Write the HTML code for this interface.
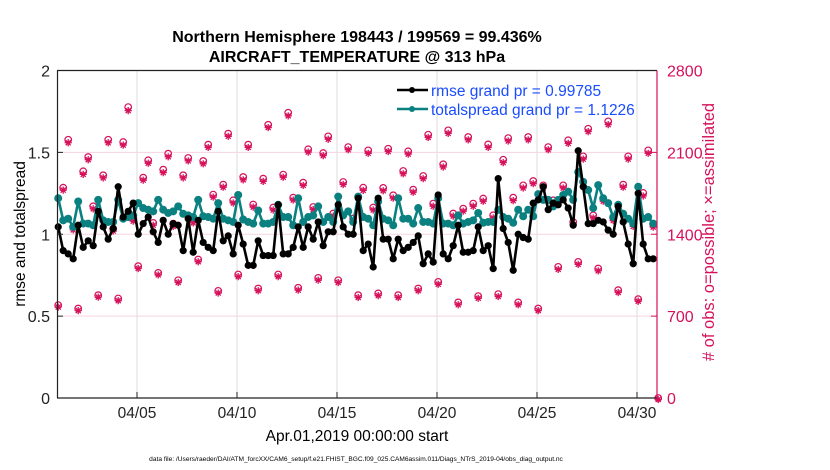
<!DOCTYPE html>
<html><head><meta charset="utf-8"><style>
body{margin:0;background:#fff;}
svg{display:block;font-family:"Liberation Sans",Arial,sans-serif;}
</style></head><body>
<svg id="chart" width="830" height="470" xmlns="http://www.w3.org/2000/svg">
<g id="grid"></g>
<g id="obs"></g>
<g id="series"></g>
<g id="axes"></g>
<text x="357" y="42" text-anchor="middle" font-size="16" font-weight="bold">Northern Hemisphere 198443 / 199569 = 99.436%</text>
<text x="357" y="62" text-anchor="middle" font-size="16" font-weight="bold">AIRCRAFT_TEMPERATURE @ 313 hPa</text>
<text transform="translate(25,234) rotate(-90)" text-anchor="middle" font-size="15.5">rmse and totalspread</text>
<text transform="translate(714,232) rotate(-90)" text-anchor="middle" font-size="16.5" fill="#d6105a"># of obs: o=possible; ×=assimilated</text>
<text x="357" y="441" text-anchor="middle" font-size="15.5">Apr.01,2019 00:00:00 start</text>
<text x="356" y="461" text-anchor="middle" font-size="6.6">data file: /Users/raeder/DAI/ATM_forcXX/CAM6_setup/f.e21.FHIST_BGC.f09_025.CAM6assim.011/Diags_NTrS_2019-04/obs_diag_output.nc</text>
<g>
<line x1="397" y1="90" x2="428" y2="90" stroke="#000" stroke-width="2.5"/>
<circle cx="412" cy="90" r="3" fill="#000"/>
<text x="431" y="96" font-size="15.5" fill="#1a4cff">rmse grand pr = 0.99785</text>
<line x1="397" y1="109" x2="428" y2="109" stroke="#0b8080" stroke-width="2.5"/>
<circle cx="412" cy="109" r="3" fill="#0b8080"/>
<text x="431" y="115" font-size="15.5" fill="#1a4cff">totalspread grand pr = 1.1226</text>
</g>
</svg>
<script>
const rmse=[1.045,0.90,0.88,0.85,1.055,0.92,0.96,0.93,1.14,1.045,0.97,1.035,1.29,1.105,1.14,1.19,1.00,1.065,1.105,1.015,0.95,1.085,1.00,1.065,1.055,0.90,1.095,0.89,1.085,0.95,0.92,0.90,1.14,0.96,0.99,0.88,1.055,0.94,0.81,0.81,0.96,0.87,
0.87,0.87,1.18,0.88,0.88,0.92,1.045,0.92,1.045,0.97,1.075,0.93,1.015,1.015,1.18,1.045,1.00,1.00,1.22,0.90,0.94,0.80,1.22,0.97,0.97,0.85,0.97,0.90,0.92,0.95,0.99,0.82,0.88,0.83,1.24,0.88,0.85,0.93,1.055,0.89,
0.89,0.90,1.045,0.90,0.93,0.79,1.34,1.035,0.95,0.78,1.00,0.98,0.97,1.19,1.21,1.29,1.15,1.19,1.18,1.21,1.16,1.055,1.51,1.29,1.065,1.065,1.085,1.075,1.025,1.00,1.17,1.075,0.94,0.82,1.25,0.94,0.85,0.85];
const spread=[1.22,1.085,1.095,1.045,1.20,1.065,1.065,1.055,1.21,1.085,1.075,1.075,1.21,1.095,1.105,1.115,1.19,1.16,1.15,1.14,1.21,1.15,1.13,1.14,1.17,1.125,1.115,1.105,1.21,1.11,1.105,1.095,1.19,1.095,1.085,1.075,1.24,1.09,1.075,1.065,1.145,1.065,
1.065,1.075,1.18,1.105,1.105,1.055,1.22,1.075,1.105,1.115,1.17,1.075,1.105,1.075,1.23,1.115,1.14,1.075,1.23,1.105,1.095,1.055,1.20,1.095,1.085,1.055,1.22,1.095,1.095,1.065,1.16,1.075,1.075,1.065,1.22,1.065,1.065,1.055,1.115,1.065,
1.075,1.085,1.13,1.07,1.075,1.075,1.15,1.105,1.095,1.07,1.15,1.11,1.15,1.11,1.245,1.21,1.21,1.17,1.21,1.24,1.26,1.21,1.38,1.32,1.27,1.16,1.30,1.22,1.19,1.105,1.18,1.125,1.095,1.065,1.29,1.095,1.105,1.065];
const nposs=[794,1798,2208,1463,765,1938,2060,1639,879,1904,2208,1448,851,2188,2487,1534,1127,1884,2032,1497,1070,1952,2089,1491,1007,1904,2052,1520,1184,2026,2166,1739,916,1824,2260,1690,1056,1889,2166,1654,936,1875,
2336,1628,1056,1910,2439,1713,942,1841,2126,1633,1027,2094,2237,1577,1007,1847,2145,1534,879,1798,2117,1628,894,1796,2131,1733,879,1941,2109,1781,936,1898,2251,1662,993,1998,2288,1577,817,1619,
2231,1662,871,1705,2168,1562,888,2037,2222,1713,817,1818,2231,1855,765,1818,2145,1690,1121,1818,2203,1505,1164,2066,2302,1562,1107,1705,2365,1540,922,1824,2066,1491,845,1753,2117,1483,0];
const nused=[790,1790,2195,1450,760,1925,2050,1630,875,1895,2195,1440,845,2175,2470,1525,1120,1875,2020,1490,1065,1940,2075,1480,1000,1895,2040,1510,1178,2015,2155,1730,910,1815,2250,1680,1050,1878,2155,1645,930,1865,
2325,1620,1050,1900,2425,1705,935,1830,2115,1625,1020,2085,2225,1568,1000,1838,2135,1525,872,1788,2105,1620,888,1785,2120,1722,872,1930,2098,1772,930,1888,2240,1652,985,1988,2275,1568,810,1610,
2220,1652,865,1695,2155,1552,880,2025,2210,1700,810,1808,2220,1845,760,1808,2135,1680,1112,1808,2190,1495,1155,2055,2290,1552,1100,1695,2350,1530,915,1815,2055,1480,840,1740,2105,1474,0];
const yTicks=[0,0.5,1,1.5,2];
const rTicks=[0,700,1400,2100,2800];
const xTickDays=[4,9,14,19,24,29];
const xTickLabels=["04/05","04/10","04/15","04/20","04/25","04/30"];

const NS="http://www.w3.org/2000/svg";
const L=57,R=657,T=70.5,B=398;
const X=d=>L+20*d;
const Y=v=>B-(v/2)*(B-T);
const YR=v=>B-(v/2800)*(B-T);
const tOf=i=>0.06+0.25*i;
function mk(tag,attrs,parent){const e=document.createElementNS(NS,tag);for(const k in attrs)e.setAttribute(k,attrs[k]);parent.appendChild(e);return e;}
const grid=document.getElementById('grid'),axes=document.getElementById('axes'),obs=document.getElementById('obs'),ser=document.getElementById('series');

xTickDays.forEach((d,i)=>{
  const g=mk('line',{x1:X(d),x2:X(d),y1:T,y2:B,stroke:'#dcdcdc','stroke-width':1},grid);
  
  
  const tk=mk('line',{x1:X(d),x2:X(d),y1:B,y2:B-6,stroke:'#222'},axes);
  
  
  const t=mk('text',{x:X(d),y:B+20,'text-anchor':'middle','font-size':15.5,fill:'#222'},axes);
  t.textContent=xTickLabels[i];
  
  
});
rTicks.forEach(v=>{
  if(v>0&&v<2800){const g=mk('line',{x1:L,x2:R,y1:YR(v),y2:YR(v),stroke:'#f7d3e2','stroke-width':1},grid);
  
  }
  const tk=mk('line',{x1:R,x2:R-6,y1:YR(v),y2:YR(v),stroke:'#d6105a'},axes);
  
  
  const t=mk('text',{x:R+10,y:YR(v)+6,'text-anchor':'start','font-size':16,fill:'#d6105a'},axes);
  t.textContent=v;
  
  
});
yTicks.forEach(v=>{
  const tk=mk('line',{x1:L,x2:L+6,y1:Y(v),y2:Y(v),stroke:'#222'},axes);
  
  
  const t=mk('text',{x:L-7,y:Y(v)+6,'text-anchor':'end','font-size':16,fill:'#222'},axes);
  t.textContent=v;
  
  
});
const la=mk('line',{x1:L+0.5,x2:L+0.5,y1:T,y2:B,stroke:'#222','stroke-width':1.2},axes);


const ba=mk('line',{x1:L,x2:R,y1:B,y2:B,stroke:'#222','stroke-width':1.2},axes);


const ta=mk('line',{x1:L,x2:R,y1:T,y2:T,stroke:'#222','stroke-width':1.2},axes);


const ra=mk('line',{x1:R,x2:R,y1:T,y2:B,stroke:'#d6105a','stroke-width':1.2},axes);



const M='#d6105a';
nposs.forEach((v,i)=>{
  const c=mk('circle',{cx:X(tOf(i)),cy:YR(v),r:3.3,fill:'none',stroke:M,'stroke-width':1.2},obs);
  
  
});
nused.forEach((v,i)=>{
  const x=X(tOf(i)),y=YR(v)+1.5,r=3.6;
  const p=mk('path',{d:`M${x-r} ${y}H${x+r}M${x} ${y-r}V${y+r}M${x-r*0.7} ${y-r*0.7}L${x+r*0.7} ${y+r*0.7}M${x-r*0.7} ${y+r*0.7}L${x+r*0.7} ${y-r*0.7}`,stroke:M,'stroke-width':1.3,fill:'none'},obs);
  
  
});

function drawLine(arr,col,name,star){
  const d=arr.map((v,i)=>(i?'L':'M')+X(tOf(i)).toFixed(1)+' '+Y(v).toFixed(1)).join('');
  const p=mk('path',{d:d,stroke:col,'stroke-width':2.6,fill:'none','stroke-linejoin':'round'},ser);
  
  
  arr.forEach((v,i)=>{
    const c=mk('circle',{cx:X(tOf(i)),cy:Y(v),r:star?3.6:4,fill:col},ser);
    
    
  });
}
drawLine(spread,'#0b8080','totalspread',false);
drawLine(rmse,'#000','rmse',true);
</script>
</body></html>
